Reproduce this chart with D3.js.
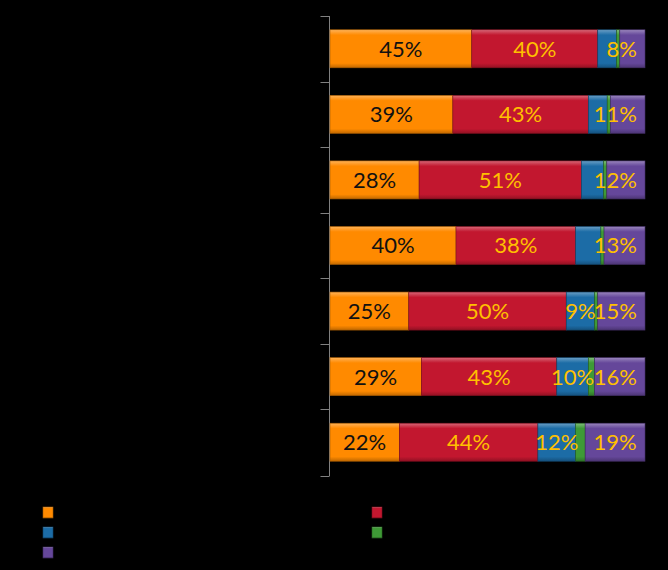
<!DOCTYPE html>
<html><head><meta charset="utf-8">
<script src="https://cdn.jsdelivr.net/npm/d3@7"></script>
<style>html,body{margin:0;padding:0;background:#000;}svg{display:block;}</style>
</head><body>
<svg id="chart" width="668" height="570"></svg>
<script>
// Data (percent shares; labels in the reference are black on black)
const categories = ["Category 1","Category 2","Category 3","Category 4","Category 5","Category 6","Category 7"];
const seriesNames = ["Series 1","Series 2","Series 3","Series 4","Series 5"];
const s1 = [45, 39, 28, 40, 25, 29, 22];   // orange
const s2 = [40, 43, 51, 38, 50, 43, 44];   // red
const s3 = [6, 6, 7, 8, 9, 10, 12];        // blue
const s4 = [1, 1, 1, 1, 1, 2, 3];          // green
const s5 = [8, 11, 12, 13, 15, 16, 19];    // purple
const seriesColors = ["#FF8A00","#C2172F","#1C6CA6","#3E9A36","#65479A"];
const labelColors = ["#111","#FFC000","#FFC000",null,"#FFC000"];
const showBlueLabel = [false,false,false,false,true,true,true];

const svg = d3.select("#chart");
const W = 668, H = 570;
svg.append("rect").attr("width",W).attr("height",H).attr("fill","#000");

const rows = categories.map((c,i)=>({cat:c, s0:s1[i], s1:s2[i], s2:s3[i], s3:s4[i], s4:s5[i]}));
const keys = ["s0","s1","s2","s3","s4"];
const stack = d3.stack().keys(keys).offset(d3.stackOffsetExpand);
const layers = stack(rows);

const x = d3.scaleLinear().domain([0,1]).range([330,645]);
const y = d3.scaleBand().domain(categories).range([16,475]).paddingInner(0.42).paddingOuter(0.21);

// gradients for bevel look
const defs = svg.append("defs");
seriesColors.forEach((c,i)=>{
  const g = defs.append("linearGradient").attr("id","g"+i).attr("x1",0).attr("y1",0).attr("x2",0).attr("y2",1);
  const base = d3.color(c);
  g.append("stop").attr("offset","0%").attr("stop-color",d3.interpolateRgb(c,"#fff")(0.35));
  g.append("stop").attr("offset","9%").attr("stop-color",d3.interpolateRgb(c,"#fff")(0.12));
  g.append("stop").attr("offset","14%").attr("stop-color",c);
  g.append("stop").attr("offset","88%").attr("stop-color",c);
  g.append("stop").attr("offset","100%").attr("stop-color",base.darker(0.8));
});

// axis
const yAxis = d3.axisLeft(y).tickSize(0).tickFormat(d=>d);
const ax = svg.append("g").attr("transform","translate(329.5,0)");
ax.append("line").attr("x1",0).attr("x2",0).attr("y1",16).attr("y2",476).attr("stroke","#808080");
const tickYs = d3.range(categories.length+1).map(i=> i===categories.length ? 475.5 : y(categories[i]) - y.step()*y.paddingInner()/2);
ax.selectAll("line.tk").data(tickYs).join("line").attr("class","tk")
  .attr("x1",-9).attr("x2",0).attr("y1",d=>Math.round(d)+0.5).attr("y2",d=>Math.round(d)+0.5).attr("stroke","#808080");
ax.selectAll("text.cl").data(categories).join("text").attr("class","cl")
  .attr("x",-14).attr("y",d=>y(d)+y.bandwidth()/2).attr("dy","0.35em").attr("text-anchor","end")
  .attr("fill","#000").style("font-family","Lato, sans-serif").style("font-size","14px").text(d=>d);

// bars
const gl = svg.append("g").selectAll("g").data(layers).join("g").attr("fill",(d,i)=>`url(#g${i})`);
gl.selectAll("rect").data(d=>d).join("rect")
  .attr("x",d=>x(d[0])).attr("width",d=>x(d[1])-x(d[0]))
  .attr("y",d=>y(d.data.cat)).attr("height",y.bandwidth())
  .attr("stroke",(d,i,n)=>d3.color(seriesColors[layers.findIndex(L=>L.includes(d))]).darker(1.2))
  .attr("stroke-width",0.6);

// labels
const rightLimit = 637;
layers.forEach((L,si)=>{
  if(!labelColors[si]) return;
  L.forEach((d,ci)=>{
    if(si===2 && !showBlueLabel[ci]) return;
    const raw = [s1,s2,s3,s4,s5][si][ci];
    const t = svg.append("text")
      .attr("y", y(d.data.cat)+y.bandwidth()/2).attr("dy","0.36em")
      .attr("text-anchor","middle").attr("fill",labelColors[si])
      .style("font-family","Lato, sans-serif").style("font-size","22px")
      .text(raw+"%");
    const w = t.node().getComputedTextLength();
    let cx = (x(d[0])+x(d[1]))/2;
    if(cx + w/2 > rightLimit) cx = rightLimit - w/2;
    t.attr("x",cx);
  });
});

// legend
const legPos = [[43,507],[372,507],[43,527],[372,527],[43,547]];
seriesNames.forEach((n,i)=>{
  const [lx,ly] = legPos[i];
  svg.append("rect").attr("x",lx).attr("y",ly).attr("width",10).attr("height",11)
    .attr("fill",`url(#g${i})`).attr("stroke",d3.color(seriesColors[i]).darker(1.2)).attr("stroke-width",0.6);
  svg.append("text").attr("x",lx+16).attr("y",ly+5.5).attr("dy","0.35em").attr("fill","#000")
    .style("font-family","Lato, sans-serif").style("font-size","13px").text(n);
});
</script>
</body></html>
